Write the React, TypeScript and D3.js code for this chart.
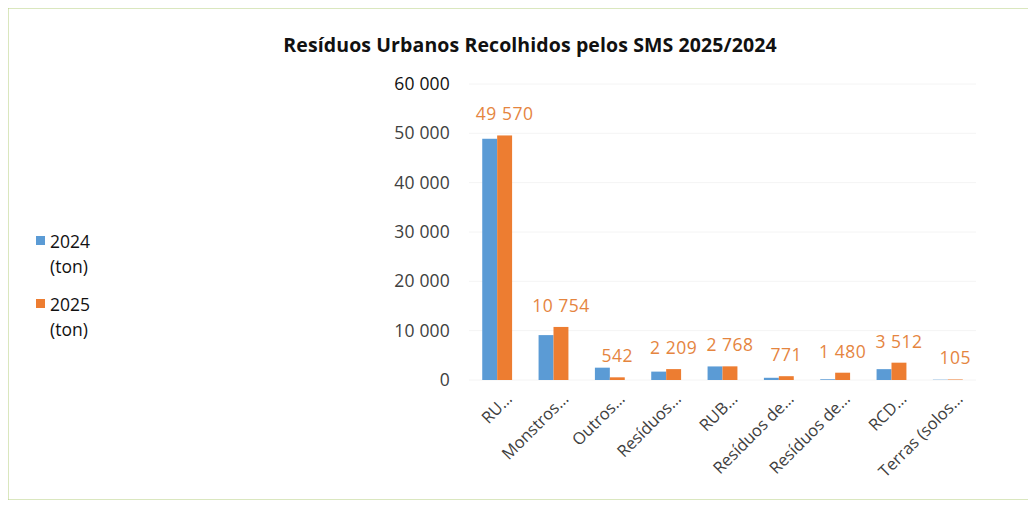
import React from "react";
import * as d3 from "d3";

const categories = ["RU…", "Monstros…", "Outros…", "Resíduos…", "RUB…", "Resíduos de…", "Resíduos de…", "RCD…", "Terras (solos…"];
const values2024 = [48900, 9100, 2500, 1700, 2750, 450, 150, 2200, 60];
const values2025 = [49570, 10754, 542, 2209, 2768, 771, 1480, 3512, 105];
const yTicks = [0, 10000, 20000, 30000, 40000, 50000, 60000];
const seriesNames = ["2024", "2025"];

const W = 1036, H = 508;
const BLUE = "#5B9BD5", ORANGE = "#ED7D31";
const FONT = "'Open Sans', 'Noto Sans', sans-serif";

const fmt = (v: number) => d3.format(",")(v).replace(/,/g, " ");

export default function App() {
  const x = d3.scaleBand<number>().domain(categories.map((_, i) => i)).range([469, 976]).paddingInner(0.47).paddingOuter(0.235);
  const x1 = d3.scaleBand<number>().domain([0, 1]).range([0, x.bandwidth()]);
  const y = d3.scaleLinear().domain([0, 60000]).range([380, 84]);

  return (
    <div style={{ margin: -8 }}>
      <svg width={W} height={H} style={{ display: "block", background: "#fff" }}>
        <rect x={7.5} y={7.5} width={W + 20} height={H - 15} fill="none" stroke="#b5cf7f" strokeWidth={2} />
        <text x={530} y={52} textAnchor="middle" fontFamily={FONT} fontWeight="bold" fontSize={19.5} fill="#111" letterSpacing={0.1}>
          Resíduos Urbanos Recolhidos pelos SMS 2025/2024
        </text>
        {yTicks.map(t => (
          <g key={t}>
            <line x1={469} x2={976} y1={y(t)} y2={y(t)} stroke="#f4f4f4" strokeWidth={1} />
            <text x={450} y={y(t)} dy="0.35em" textAnchor="end" fontFamily={FONT} fontSize={17.5} fill={t === 60000 ? "#111" : "#404040"} letterSpacing={0.2}>
              {fmt(t)}
            </text>
          </g>
        ))}
        {categories.map((c, i) => {
          const bx = x(i)!;
          const cx = bx + x.bandwidth() / 2;
          return (
            <g key={i}>
              <rect x={bx + x1(0)!} y={y(values2024[i])} width={x1.bandwidth()} height={y(0) - y(values2024[i])} fill={BLUE} />
              <rect x={bx + x1(1)!} y={y(values2025[i])} width={x1.bandwidth()} height={y(0) - y(values2025[i])} fill={ORANGE} />
              <text x={bx + x1(1)! + x1.bandwidth() / 2} y={y(values2025[i]) - 15} textAnchor="middle" fontFamily={FONT} fontSize={17.5} fill="#E5853F" letterSpacing={0.5}>
                {fmt(values2025[i])}
              </text>
              <text transform={`translate(${cx + 16},${400}) rotate(-45)`} textAnchor="end" fontFamily={FONT} fontSize={16.5} fill="#404040">
                {c}
              </text>
            </g>
          );
        })}
        {seriesNames.map((s, i) => (
          <g key={s} transform={`translate(0,${i * 63})`}>
            <rect x={36} y={236} width={9} height={9} fill={i === 0 ? BLUE : ORANGE} />
            <text x={50} y={248} fontFamily={FONT} fontSize={17.5} fill="#111">{s}</text>
            <text x={50} y={273} fontFamily={FONT} fontSize={17.5} fill="#111">(ton)</text>
          </g>
        ))}
      </svg>
    </div>
  );
}
